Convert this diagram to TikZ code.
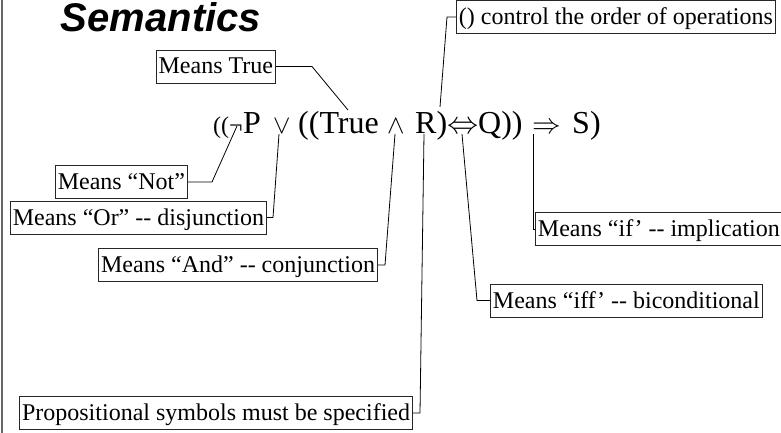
\documentclass[tikz,border=0pt]{standalone}
\usepackage{graphicx}
\usepackage{fontspec}
\setmainfont{Liberation Serif}
\newfontfamily\titlefont{Liberation Sans}
\begin{document}
\begin{tikzpicture}[x=1pt,y=-1pt,
  box/.style={draw=black!85, line width=0.9pt, inner xsep=2.5pt, inner ysep=3pt,
    text height=21pt, text depth=6pt, font=\fontsize{24}{26}\selectfont},
  conn/.style={draw=black, line width=0.8pt},
  big/.style={anchor=base west, inner sep=0pt, font=\fontsize{32}{36}\selectfont},
  small/.style={anchor=base west, inner sep=0pt, font=\fontsize{24}{26}\selectfont}]
\useasboundingbox (0,0) rectangle (781,433);
\draw[black!60, line width=1.3pt] (2,0) -- (2,433);

% title
\node[anchor=base, inner sep=0pt, font=\titlefont\bfseries\itshape\fontsize{40}{42}\selectfont] (title) at (161,32) {Semantics};

% formula pieces (baseline y = 133)
\node[small] (f1) at (213,133) {((};
\node[small] (fneg) at (229,133) {¬};
\node[big] (fP) at (243,133) {P};
\node[small] (for) at (273,133) {\scalebox{1.05}{$\vee$}};
\node[big] (fTrue) at (298,133) {((True};
\node[small] (fand) at (387,133) {\scalebox{1.05}{$\wedge$}};
\node[big] (fR) at (415,133) {R)};
\node[small] (fiff) at (447,133) {\scalebox{1.25}{$\Leftrightarrow$}};
\node[big] (fQ) at (478,133) {Q))};
\node[small] (fimp) at (532,133) {\scalebox{1.15}{$\Rightarrow$}};
\node[big] (fS) at (572,133) {S)};

% connector end points on the formula
\coordinate (cTrue) at (348,110);
\coordinate (cNot) at (237,126);
\coordinate (cOr) at (279,134);
\coordinate (cAnd) at (395,134);
\coordinate (cR) at (424,134);
\coordinate (cParen) at (440,107);
\coordinate (cIff) at (462,134);
\coordinate (cImp) at (533,134);

% boxes
\node[box, anchor=east] (bTrue) at (276,66.5) {Means True};
\node[box, anchor=east] (bNot) at (188,182) {Means “Not”};
\node[box, anchor=east] (bOr) at (267,217.5) {Means “Or” -{}- disjunction};
\node[box, anchor=east] (bAnd) at (378,265) {Means “And” -{}- conjunction};
\node[box, anchor=east] (bProp) at (413,413) {Propositional symbols must be specified};
\node[box, anchor=west] (bCtrl) at (456,17) {() control the order of operations};
\node[box, anchor=west] (bIff) at (490,300.5) {Means “iff’ -{}- biconditional};
\node[box, anchor=west] (bIf) at (535,229) {Means “if’ -{}- implication};

% connectors
\draw[conn] (bTrue.east) -- ++(36,0) -- (cTrue);
\draw[conn] (bNot.east) -- ++(24,0) -- (cNot);
\draw[conn] (bOr.east) -- ++(6,0) -- (cOr);
\draw[conn] (bAnd.east) -- ++(7,0) -- (cAnd);
\draw[conn] (bProp.east) -- ++(7,0) -- (cR);
\draw[conn] (bCtrl.west) -- ++(-9,0) -- (cParen);
\draw[conn] (bIff.west) -- ++(-13,0) -- (cIff);
\draw[conn] (bIf.west) -- ++(-2,0) -- (cImp);
\end{tikzpicture}
\end{document}
